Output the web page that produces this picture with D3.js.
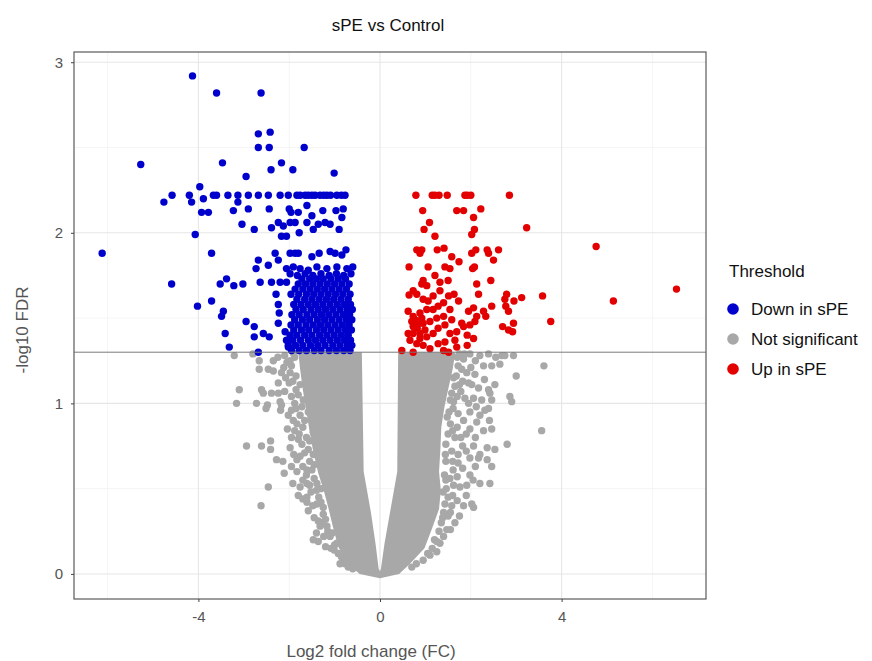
<!DOCTYPE html>
<html>
<head>
<meta charset="utf-8">
<script src="https://cdn.jsdelivr.net/npm/d3@7"></script>
<style>
  body { margin: 0; background: #fff; }
  text { font-family: "Liberation Sans", Arial, sans-serif; }
</style>
</head>
<body>
<svg width="872" height="661"></svg>
<script>
// ---- data ----
const xMajorTicks = [-4, 0, 4];
const xMinorTicks = [-6, -2, 2, 6];
const yMajorTicks = [0, 1, 2, 3];
const yMinorTicks = [0.5, 1.5, 2.5];
const fdrThreshold = 1.3; // -log10(0.05)

const legendLabels = ["Down in sPE", "Not significant", "Up in sPE"];

// scattered "down" genes
const downPoints = [
  [-4.13,2.92],[-3.60,2.82],[-2.62,2.82],[-2.68,2.58],[-2.42,2.59],[-2.68,2.50],[-2.44,2.50],[-1.67,2.50],
  [-5.27,2.40],[-3.47,2.41],[-2.40,2.37],[-2.17,2.41],[-1.92,2.37],[-1.01,2.35],[-2.95,2.33],[-3.97,2.27],
  [-4.58,2.22],[-4.20,2.22],[-3.67,2.22],[-3.60,2.22],[-3.35,2.22],[-3.13,2.22],[-2.90,2.22],[-2.68,2.22],
  [-2.46,2.22],[-2.20,2.22],[-2.02,2.22],[-1.83,2.22],[-1.76,2.22],[-1.65,2.22],[-1.58,2.22],[-1.50,2.22],
  [-1.43,2.22],[-1.32,2.22],[-1.24,2.22],[-1.17,2.22],[-1.09,2.22],[-0.95,2.22],[-0.85,2.22],[-0.77,2.22],
  [-4.76,2.18],[-4.15,2.18],[-3.89,2.20],[-3.13,2.18],
  [-3.93,2.12],[-3.78,2.12],[-3.23,2.13],[-2.90,2.14],[-2.44,2.14],[-2.00,2.14],[-1.80,2.12],[-1.61,2.16],
  [-1.50,2.10],[-1.26,2.13],[-0.97,2.13],[-0.84,2.09],[-0.81,2.14],[-1.96,2.12],
  [-3.04,2.05],[-2.77,2.02],[-2.39,2.03],[-2.24,2.06],[-2.13,2.04],[-1.98,2.06],[-1.87,2.06],[-1.78,2.00],
  [-1.61,2.06],[-1.47,2.02],[-1.36,2.05],[-1.21,2.06],[-1.10,2.05],[-0.90,2.02],[-2.17,1.98],[-2.06,1.98],
  [-4.07,1.99],[-6.12,1.88],[-3.71,1.88],
  [-2.31,1.88],[-1.98,1.88],[-1.87,1.88],[-1.80,1.88],[-1.50,1.86],[-1.34,1.88],[-1.10,1.89],[-0.99,1.88],
  [-0.84,1.87],[-0.75,1.90],[-2.68,1.84],[-2.73,1.79],[-2.46,1.81],[-2.24,1.84],
  [-2.06,1.79],[-1.91,1.80],[-1.76,1.79],[-1.58,1.78],[-1.39,1.80],[-1.17,1.79],[-0.95,1.80],[-0.73,1.79],[-0.60,1.80],
  [-1.98,1.76],[-1.82,1.75],[-1.65,1.76],[-1.48,1.75],[-1.30,1.76],[-1.12,1.75],[-0.96,1.76],[-0.80,1.75],[-0.64,1.76],
  [-4.59,1.70],[-3.52,1.70],[-3.38,1.73],[-3.22,1.69],[-3.02,1.70],[-2.64,1.71],[-2.39,1.71],[-2.20,1.71],[-2.06,1.71],
  [-4.02,1.57],[-3.71,1.60],[-3.45,1.54],[-3.49,1.51],[-2.95,1.48],[-3.41,1.41],[-2.77,1.45],[-2.57,1.41],
  [-2.77,1.39],[-2.44,1.39],[-3.32,1.33],[-2.68,1.30],
  [-2.29,1.64],[-2.24,1.58],[-2.22,1.53],[-2.24,1.47],[-2.09,1.42],[-2.06,1.37],[-2.02,1.33]
];

// dense block of "down" genes, one row per FDR level
const downBlockRows = [
  [1.31, [-1.95,-1.78,-1.62,-1.45,-1.30,-1.12,-0.96,-0.80,-0.66]],
  [1.34, [-2.02,-1.86,-1.70,-1.53,-1.37,-1.21,-1.04,-0.88,-0.72,-0.62]],
  [1.37, [-1.92,-1.75,-1.58,-1.42,-1.26,-1.10,-0.94,-0.78,-0.65]],
  [1.40, [-1.98,-1.83,-1.66,-1.50,-1.33,-1.17,-1.01,-0.85,-0.70]],
  [1.43, [-1.90,-1.73,-1.57,-1.40,-1.24,-1.08,-0.92,-0.76,-0.63]],
  [1.46, [-1.96,-1.80,-1.63,-1.47,-1.31,-1.15,-0.99,-0.83,-0.68]],
  [1.49, [-1.88,-1.71,-1.55,-1.38,-1.22,-1.06,-0.90,-0.74,-0.62]],
  [1.52, [-1.94,-1.78,-1.61,-1.45,-1.29,-1.13,-0.97,-0.81,-0.67]],
  [1.55, [-1.85,-1.69,-1.52,-1.36,-1.20,-1.04,-0.88,-0.72,-0.61]],
  [1.58, [-1.90,-1.74,-1.58,-1.42,-1.26,-1.10,-0.94,-0.78,-0.65]],
  [1.61, [-1.83,-1.66,-1.50,-1.34,-1.18,-1.02,-0.86,-0.70]],
  [1.64, [-1.96,-1.79,-1.62,-1.46,-1.30,-1.14,-0.98,-0.82,-0.66]],
  [1.67, [-1.87,-1.70,-1.54,-1.38,-1.22,-1.06,-0.90,-0.74]],
  [1.70, [-1.80,-1.64,-1.48,-1.32,-1.16,-1.00,-0.84,-0.68]],
  [1.73, [-1.72,-1.55,-1.40,-1.25,-1.08,-0.92,-0.76]]
];

// "up" genes
const upPoints = [
  [0.79,2.22],[1.15,2.22],[1.21,2.22],[1.30,2.22],[1.48,2.22],[1.87,2.22],[1.92,2.22],[2.00,2.22],[2.85,2.22],
  [0.94,2.13],[1.69,2.13],[1.84,2.13],[2.22,2.14],[1.09,2.06],[0.97,2.02],[2.06,2.09],[2.08,2.02],[2.02,1.99],
  [3.23,2.03],[1.21,1.98],
  [0.81,1.90],[0.88,1.88],[0.92,1.90],[1.26,1.90],[1.41,1.91],[2.11,1.90],[2.36,1.90],[2.61,1.90],[2.02,1.88],[2.39,1.88],
  [4.76,1.92],[1.58,1.86],[1.74,1.83],[2.50,1.84],
  [0.64,1.80],[1.06,1.80],[1.43,1.80],[1.54,1.79],[2.04,1.79],[2.08,1.80],
  [1.21,1.75],[1.32,1.71],[1.50,1.72],[0.95,1.72],[2.13,1.70],[2.44,1.72],
  [6.53,1.67],[5.14,1.60],[3.58,1.63],[3.76,1.48],
  [3.12,1.62],[2.95,1.60],[2.79,1.64],[2.75,1.61],[2.77,1.57],[2.83,1.54],[2.46,1.57],[2.28,1.54],[2.33,1.51],
  [2.17,1.64],[1.63,1.64],[2.94,1.47],[2.70,1.45],[2.83,1.43],[2.92,1.42],
  [0.64,1.635],[0.73,1.66],[0.81,1.64],[0.92,1.70],[1.03,1.69],[0.95,1.61],[1.06,1.60],[1.17,1.63],[1.32,1.66],
  [1.40,1.59],[1.28,1.57],[1.17,1.55],[1.03,1.55],[0.88,1.53],[0.73,1.51],[0.62,1.54],[0.81,1.48],[0.95,1.47],
  [1.10,1.48],[1.25,1.50],[1.40,1.51],[1.54,1.55],[1.58,1.49],[1.43,1.46],[1.28,1.44],[1.17,1.41],[1.03,1.39],
  [0.88,1.41],[0.73,1.45],[0.66,1.37],[0.81,1.35],[0.95,1.34],[1.10,1.32],[1.28,1.35],[1.43,1.36],[1.54,1.41],
  [1.69,1.42],[1.65,1.37],[1.80,1.47],[1.95,1.54],[2.06,1.56],[2.09,1.48],[1.98,1.46],[1.92,1.40],[2.06,1.38],
  [1.92,1.34],[1.69,1.33],[0.48,1.31],[0.73,1.30],[1.40,1.31],[1.51,1.30],[0.88,1.38],[1.84,1.45],[1.51,1.63],
  [1.73,1.60],[2.13,1.51],[0.77,1.49],[0.87,1.47],[0.70,1.48],[0.92,1.50],[0.82,1.44],[0.99,1.43],[0.73,1.41],[0.62,1.41]
];

// outline of the solid non-significant cloud: [log2FC, -log10 FDR]
const cloudOutline = [
  [-1.80,1.30],[-1.76,1.20],[-1.70,1.08],[-1.62,0.95],[-1.56,0.85],[-1.48,0.73],[-1.36,0.59],[-1.24,0.49],
  [-1.14,0.39],[-1.04,0.28],[-0.92,0.16],[-0.74,0.07],[-0.45,0.00],[0.00,-0.025],
  [0.42,0.00],[0.66,0.06],[0.98,0.15],[1.15,0.27],[1.30,0.38],[1.34,0.49],[1.30,0.60],[1.33,0.73],[1.35,0.86],
  [1.42,0.98],[1.50,1.08],[1.60,1.20],[1.66,1.30],
  [0.40,1.30],[0.38,0.60],[0.22,0.36],[0.10,0.18],[0.02,0.03],[0.00,0.015],
  [-0.03,0.03],[-0.10,0.18],[-0.20,0.36],[-0.36,0.60],[-0.40,1.30]
];

// scattered non-significant genes around the cloud
const nsPoints = [
  [-3.21,1.28],[-2.80,1.29],[-2.66,1.25],[-2.35,1.25],[-2.66,1.20],[-2.46,1.20],[-2.35,1.19],[-2.17,1.18],
  [-1.98,1.25],[-1.98,1.18],[-2.24,1.12],[-2.00,1.12],[-3.10,1.08],[-2.61,1.08],[-2.57,1.06],[-2.39,1.06],
  [-2.24,1.06],[-3.16,1.00],[-2.72,1.00],[-2.48,0.99],[-2.51,0.97],[-2.20,1.01],[-2.17,0.99],[-2.19,0.96],
  [-1.95,0.96],[-1.91,0.90],[-2.04,0.85],[-1.83,0.88],[-1.95,0.80],[-2.94,0.75],[-2.61,0.75],[-2.41,0.78],
  [-2.41,0.73],[-1.98,0.74],[-2.28,0.67],[-2.14,0.66],[-2.11,0.59],[-1.83,0.67],[-1.83,0.60],[-1.61,0.61],
  [-2.46,0.51],[-1.92,0.53],[-1.76,0.51],[-2.62,0.40],[-1.80,0.46],[-1.61,0.45],[-1.61,0.42],[-1.58,0.37],
  [-1.36,0.31],[-1.47,0.20],[-1.36,0.19],[-1.01,0.14],[-0.77,0.06],
  [-1.76,1.11],[-1.69,1.02],[-1.58,0.95],[-1.80,0.79],[-1.47,0.83],[-1.58,0.73],[-1.47,0.70],[-1.61,0.53],
  [-1.39,0.53],[-1.39,0.41],[-1.25,0.39],[-1.17,0.28],[-1.32,0.28],[-1.10,0.22],[-0.95,0.18],
  [-1.88,1.27],[-1.85,1.16],[-1.80,1.05],[-1.72,0.98],[-1.66,0.90],[-1.55,0.78],[-1.45,0.64],[-1.30,0.50],
  [-2.10,1.28],[-1.95,1.22],[-2.05,1.24],[-1.90,1.29],[-2.25,1.27],[-2.12,1.21],
  [-2.08,1.15],[-1.92,1.13],[-1.85,1.08],[-2.10,1.07],[-1.95,1.04],
  [-1.88,1.00],[-2.02,0.93],[-1.76,0.93],[-1.85,0.97],
  [-1.70,0.86],[-1.78,0.82],[-1.88,0.84],[-1.62,0.80],
  [-1.72,0.76],[-1.66,0.71],[-1.90,0.70],[-1.76,0.69],
  [-1.55,0.66],[-1.70,0.63],[-1.62,0.58],[-1.95,0.63],[-1.50,0.61],
  [-1.45,0.56],[-1.55,0.52],[-1.70,0.55],[-1.40,0.49],[-1.52,0.48],
  [-1.35,0.45],[-1.48,0.40],[-1.30,0.42],[-1.70,0.44],
  [-1.25,0.35],[-1.45,0.33],[-1.20,0.32],[-1.28,0.30],
  [-1.15,0.25],[-1.24,0.22],[-1.05,0.24],[-1.40,0.24],
  [-1.00,0.17],[-1.08,0.15],[-0.92,0.12],[-1.20,0.16],[-0.85,0.10],
  [-0.80,0.08],[-0.70,0.04],[-0.60,0.03],[-0.88,0.06],
  [1.98,1.29],[2.20,1.28],[2.39,1.29],[2.68,1.28],[2.75,1.28],[2.94,1.28],[3.61,1.22],[3.00,1.16],
  [2.28,1.22],[2.46,1.22],[2.64,1.23],[1.84,1.26],[1.72,1.22],[1.91,1.18],[2.09,1.17],
  [1.75,1.11],[2.02,1.11],[2.17,1.09],[2.39,1.08],[2.53,1.11],[2.42,1.06],[2.86,1.04],[2.90,1.01],
  [1.70,1.04],[1.87,1.03],[2.06,1.03],[2.24,1.02],[2.46,1.02],[2.39,0.97],[2.31,0.96],
  [1.61,0.97],[1.98,0.95],[1.84,0.90],[2.13,0.89],[2.41,0.90],[1.98,0.85],[2.28,0.84],[2.46,0.85],
  [3.56,0.84],[2.80,0.76],[2.53,0.73],[2.36,0.74],[2.06,0.75],[1.82,0.75],[1.65,0.80],
  [2.46,0.63],[2.36,0.67],[2.17,0.68],[1.98,0.68],[1.98,0.58],[1.72,0.65],[1.61,0.61],[1.54,0.56],
  [1.76,0.51],[1.91,0.52],[2.20,0.53],[2.42,0.53],[1.58,0.40],[1.84,0.40],[2.02,0.41],[2.06,0.39],
  [1.65,0.30],[1.50,0.34],[1.32,0.18],[1.47,0.26],[1.10,0.11],[1.43,0.41],[1.39,0.48],[1.50,0.45],
  [1.70,1.27],[1.62,1.15],[1.55,1.02],[1.48,0.92],[1.44,0.70],[1.42,0.58],[1.38,0.33],[1.20,0.20],
  [1.75,1.29],[1.86,1.29],[2.10,1.25],[2.00,1.21],[1.80,1.20],[2.55,1.27],
  [1.68,1.16],[1.82,1.13],[1.95,1.12],[1.65,1.10],[2.30,1.14],
  [1.58,1.06],[1.78,1.07],[1.62,1.01],[1.95,1.00],[2.12,0.98],
  [1.52,0.95],[1.72,0.94],[1.55,0.88],[1.70,0.86],[2.20,0.93],
  [1.50,0.82],[1.60,0.84],[1.78,0.80],[1.90,0.82],[2.10,0.80],
  [1.45,0.76],[1.58,0.72],[1.72,0.70],[1.90,0.72],[2.20,0.70],
  [1.45,0.66],[1.60,0.66],[1.82,0.62],[2.10,0.63],
  [1.45,0.55],[1.62,0.52],[1.70,0.57],[2.05,0.55],
  [1.46,0.50],[1.60,0.46],[1.70,0.43],[1.90,0.46],
  [1.40,0.36],[1.55,0.36],[1.35,0.30],[1.75,0.34],
  [1.30,0.25],[1.40,0.22],[1.25,0.19],[1.55,0.26],
  [1.15,0.15],[1.05,0.12],[0.95,0.08],[0.80,0.06],[0.70,0.04],[1.25,0.13]
];

const downAll = downPoints.concat(
  downBlockRows.flatMap(([fdr, fcs]) => fcs.map(fc => [fc, fdr]))
);

// ---- layout ----
const svg = d3.select("svg");
const panel = { left: 74, right: 706, top: 52, bottom: 599 };

const x = d3.scaleLinear().domain([-6.74, 7.18]).range([panel.left, panel.right]);
const y = d3.scaleLinear().domain([-0.147, 3.06]).range([panel.bottom, panel.top]);

const colors = { down: "#0000cd", ns: "#a8a8a8", up: "#e20000" };
const r = 3.7;

svg.append("rect")
  .attr("width", 872).attr("height", 661).attr("fill", "#fff");

// grid
const grid = svg.append("g");
grid.selectAll(".xminor").data(xMinorTicks).join("line")
  .attr("x1", d => x(d)).attr("x2", d => x(d))
  .attr("y1", panel.top).attr("y2", panel.bottom)
  .attr("stroke", "#f2f2f2").attr("stroke-width", 0.8);
grid.selectAll(".yminor").data(yMinorTicks).join("line")
  .attr("y1", d => y(d)).attr("y2", d => y(d))
  .attr("x1", panel.left).attr("x2", panel.right)
  .attr("stroke", "#f2f2f2").attr("stroke-width", 0.8);
grid.selectAll(".xmajor").data(xMajorTicks).join("line")
  .attr("x1", d => x(d)).attr("x2", d => x(d))
  .attr("y1", panel.top).attr("y2", panel.bottom)
  .attr("stroke", "#e6e6e6").attr("stroke-width", 1.1);
grid.selectAll(".ymajor").data(yMajorTicks).join("line")
  .attr("y1", d => y(d)).attr("y2", d => y(d))
  .attr("x1", panel.left).attr("x2", panel.right)
  .attr("stroke", "#e6e6e6").attr("stroke-width", 1.1);

// non-significant cloud
svg.append("path")
  .datum(cloudOutline)
  .attr("d", d3.line().x(d => x(d[0])).y(d => y(d[1])).curve(d3.curveLinearClosed))
  .attr("fill", colors.ns);

const dots = svg.append("g");
dots.selectAll(".ns").data(nsPoints).join("circle")
  .attr("cx", d => x(d[0])).attr("cy", d => y(d[1])).attr("r", r)
  .attr("fill", colors.ns);
dots.selectAll(".down").data(downAll).join("circle")
  .attr("cx", d => x(d[0])).attr("cy", d => y(d[1])).attr("r", r)
  .attr("fill", colors.down);
dots.selectAll(".up").data(upPoints).join("circle")
  .attr("cx", d => x(d[0])).attr("cy", d => y(d[1])).attr("r", r)
  .attr("fill", colors.up);

// threshold line
svg.append("line")
  .attr("x1", panel.left).attr("x2", panel.right)
  .attr("y1", y(fdrThreshold)).attr("y2", y(fdrThreshold))
  .attr("stroke", "#7a7a7a").attr("stroke-width", 1);

// panel border
svg.append("rect")
  .attr("x", panel.left).attr("y", panel.top)
  .attr("width", panel.right - panel.left).attr("height", panel.bottom - panel.top)
  .attr("fill", "none").attr("stroke", "#5a5a5a").attr("stroke-width", 1.2);

// axes
const xAxis = svg.append("g")
  .attr("transform", `translate(0,${panel.bottom})`)
  .call(d3.axisBottom(x).tickValues(xMajorTicks).tickSize(3).tickPadding(9).tickFormat(d => String(d)));
const yAxis = svg.append("g")
  .attr("transform", `translate(${panel.left},0)`)
  .call(d3.axisLeft(y).tickValues(yMajorTicks).tickSize(3).tickPadding(8).tickFormat(d => String(d)));
[xAxis, yAxis].forEach(a => {
  a.select(".domain").remove();
  a.selectAll(".tick line").attr("stroke", "#444");
  a.selectAll(".tick text")
    .attr("fill", "#555").attr("font-size", 15)
    .style("font-family", '"Liberation Sans", Arial, sans-serif');
});

// titles
svg.append("text")
  .attr("x", 388).attr("y", 31).attr("text-anchor", "middle")
  .attr("font-size", 17).attr("fill", "#111")
  .text("sPE vs Control");
svg.append("text")
  .attr("x", 371).attr("y", 657).attr("text-anchor", "middle")
  .attr("font-size", 17).attr("fill", "#555")
  .text("Log2 fold change (FC)");
svg.append("text")
  .attr("transform", "translate(28,330) rotate(-90)").attr("text-anchor", "middle")
  .attr("font-size", 17).attr("fill", "#555")
  .text("-log10 FDR");

// legend
const legend = svg.append("g");
legend.append("text")
  .attr("x", 729).attr("y", 277).attr("font-size", 17).attr("fill", "#111")
  .text("Threshold");
const legendColors = [colors.down, colors.ns, colors.up];
const legendY = [309, 339, 369];
const items = legend.selectAll(".item").data(legendLabels).join("g")
  .attr("transform", (d, i) => `translate(733,${legendY[i]})`);
items.append("circle").attr("r", 5.8).attr("fill", (d, i) => legendColors[i]);
items.append("text")
  .attr("x", 18).attr("y", 6).attr("font-size", 17).attr("fill", "#111")
  .text(d => d);
</script>
</body>
</html>
